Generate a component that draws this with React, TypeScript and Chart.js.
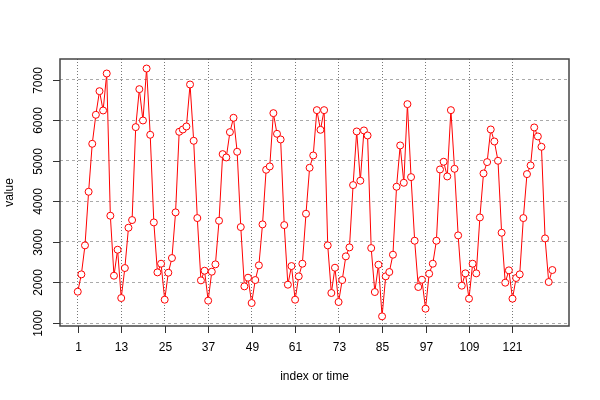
import React, { useEffect, useRef } from "react";
import { Chart, registerables } from "chart.js";

Chart.register(...registerables);

const values: number[] = [
  1773, 2200, 2915, 4238, 5422, 6137, 6720, 6244, 7156, 3647, 2167, 2808,
  1616, 2356, 3351, 3540, 5833, 6770, 5997, 7279, 5644, 3482, 2249, 2463,
  1575, 2241, 2603, 3729, 5718, 5775, 5849, 6885, 5496, 3589, 2052, 2290,
  1551, 2266, 2447, 3523, 5167, 5085, 5710, 6063, 5225, 3367, 1904, 2118,
  1493, 2060, 2422, 3433, 4781, 4863, 6178, 5668, 5529, 3416, 1945, 2405,
  1575, 2151, 2463, 3696, 4830, 5134, 6252, 5767, 6252, 2915, 1740, 2364,
  1518, 2060, 2644, 2866, 4403, 5726, 4510, 5751, 5627, 2849, 1764, 2438,
  1164, 2151, 2258, 2685, 4362, 5381, 4460, 6400, 4600, 3030, 1888, 2068,
  1353, 2216, 2463, 3030, 4789, 4978, 4616, 6252, 4805, 3161, 1921, 2225,
  1600, 2463, 2225, 3605, 4690, 4970, 5775, 5479, 5003, 3227, 1995, 2299,
  1600, 2110, 2200, 3589, 4674, 4888, 5825, 5603, 5348, 3087, 2011, 2307,
];

const xTicks: number[] = [1, 13, 25, 37, 49, 61, 73, 85, 97, 109, 121];
const yTicks: number[] = [1000, 2000, 3000, 4000, 5000, 6000, 7000];
const xTitle = "index or time";
const yTitle = "value";

const FONT = "12px 'Liberation Sans', Arial, sans-serif";

const decorPlugin = {
  id: "decor",
  afterDraw(chart: any) {
    const { ctx, chartArea } = chart;
    const xs = chart.scales.x;
    const ys = chart.scales.y;
    ctx.save();
    // box
    ctx.strokeStyle = "#444";
    ctx.lineWidth = 1.5;
    ctx.setLineDash([]);
    ctx.strokeRect(chartArea.left, chartArea.top, chartArea.right - chartArea.left, chartArea.bottom - chartArea.top);
    // ticks
    ctx.strokeStyle = "#333";
    ctx.lineWidth = 1;
    ctx.fillStyle = "#000";
    ctx.font = FONT;
    ctx.textAlign = "center";
    ctx.textBaseline = "middle";
    for (const t of xTicks) {
      const px = Math.round(xs.getPixelForValue(t)) + 0.5;
      ctx.beginPath();
      ctx.moveTo(px, chartArea.bottom);
      ctx.lineTo(px, chartArea.bottom + 7);
      ctx.stroke();
      ctx.fillText(String(t), px, chartArea.bottom + 22);
    }
    for (const t of yTicks) {
      const py = Math.round(ys.getPixelForValue(t)) + 0.5;
      ctx.beginPath();
      ctx.moveTo(chartArea.left - 7, py);
      ctx.lineTo(chartArea.left, py);
      ctx.stroke();
      ctx.save();
      ctx.translate(39, py);
      ctx.rotate(-Math.PI / 2);
      ctx.fillText(String(t), 0, 0);
      ctx.restore();
    }
    // titles
    ctx.fillText(xTitle, (chartArea.left + chartArea.right) / 2, 377);
    ctx.save();
    ctx.translate(10, (chartArea.top + chartArea.bottom) / 2);
    ctx.rotate(-Math.PI / 2);
    ctx.fillText(yTitle, 0, 0);
    ctx.restore();
    ctx.restore();
  },
};

export default function App() {
  const ref = useRef<HTMLCanvasElement | null>(null);
  useEffect(() => {
    if (!ref.current) return;
    const points = values.map((v, i) => ({ x: i + 1, y: v }));
    const chart = new Chart(ref.current, {
      type: "line",
      data: {
        datasets: [
          {
            data: points,
            borderColor: "#ff0000",
            borderWidth: 1,
            pointRadius: 3.5,
            pointBackgroundColor: "#ffffff",
            pointBorderColor: "#ff0000",
            pointBorderWidth: 1,
            tension: 0,
          },
        ],
      },
      options: {
        animation: false,
        responsive: false,
        devicePixelRatio: 1,
        layout: { padding: { left: 60, top: 59, right: 31, bottom: 74 }, autoPadding: false },
        plugins: { legend: { display: false }, tooltip: { enabled: false } },
        scales: {
          x: {
            type: "linear",
            min: -3.9,
            max: 136.6,
            afterBuildTicks: (s: any) => {
              s.ticks = xTicks.map((v) => ({ value: v }));
            },
            afterFit: (s: any) => {
              s.height = 0;
            },
            ticks: { display: false },
            grid: { color: "#777", drawTicks: false, lineWidth: 1 },
            border: { display: false, dash: [1, 2] },
          },
          y: {
            type: "linear",
            min: 926,
            max: 7514,
            afterBuildTicks: (s: any) => {
              s.ticks = yTicks.map((v) => ({ value: v }));
            },
            afterFit: (s: any) => {
              s.width = 0;
            },
            ticks: { display: false },
            grid: { color: "#aaa", drawTicks: false, lineWidth: 1 },
            border: { display: false, dash: [3, 3] },
          },
        },
      },
      plugins: [decorPlugin],
    } as any);
    return () => chart.destroy();
  }, []);
  return (
    <div style={{ position: "absolute", left: 0, top: 0, width: 600, height: 400, background: "#fff" }}>
      <canvas ref={ref} width={600} height={400} style={{ display: "block" }} />
    </div>
  );
}
